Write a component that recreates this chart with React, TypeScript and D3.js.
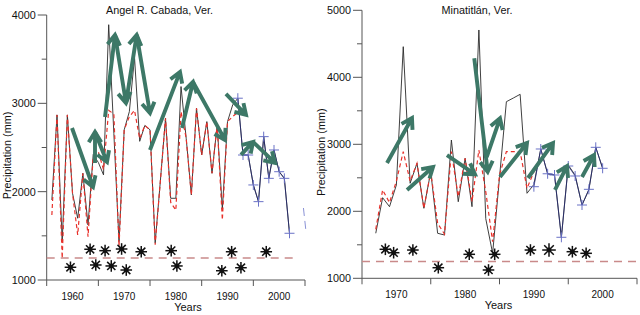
import React from 'react';
import * as d3 from 'd3';

// ---------- Left panel: Angel R. Cabada ----------
const yearsL = [1956,1957,1958,1959,1960,1961,1962,1963,1964,1965,1966,1967,1968,1969,1970,1971,1972,1973,1974,1975,1976,1977,1978,1979,1980,1981,1982,1983,1984,1985,1986,1987,1988,1989,1990,1991,1992,1993,1994,1995,1996,1997,1998,1999,2000,2001,2002];
const blackL = [1906,2869,1434,2869,1982,1699,2208,1623,2420,2330,2190,3890,2660,1434,2700,2906,3520,2570,2750,2700,1420,2120,2831,1925,1925,3190,2605,1963,2944,2415,2793,2208,2755,1800,2793,2982,3058,2415,2415,2076,1887,2623,2151,2472,2226,2151,1529];
const redYearsL = [1956,1957,1958,1959,1960,1961,1962,1963,1964,1965,1966,1967,1968,1969,1970,1971,1972,1973,1974,1975,1976,1977,1978,1979,1980,1981,1982,1983,1984,1985,1986,1987,1988,1989,1990,1991,1992];
const redL = [1736,2869,1245,2869,1982,1510,2208,1490,2400,2450,2250,2920,2880,1380,2700,2850,2920,2600,2750,2700,1400,2120,2831,1880,1790,2906,2605,1963,2944,2415,2793,2208,2755,1680,2793,2850,2900];
const blueYearsL = [1992,1993,1994,1995,1996,1997,1998,1999,2000,2001,2002];
const blueL = [3058,2415,2415,2076,1887,2623,2151,2472,2226,2151,1529];
const eventYearsL = [1959.6,1963.4,1964.5,1966.3,1967.5,1969.5,1970.4,1973.3,1979.1,1980.2,1988.9,1990.8,1992.6,1997.5];
const eventValsL = [1144,1348,1170,1332,1159,1351,1113,1320,1332,1159,1105,1320,1139,1320];
// arrows: [year1, value1, year2, value2]
const arrowsL: number[][] = [
  [1959.9,2721,1963.96,2053],
  [1964.35,2325,1964.35,2676],
  [1964.35,2676,1966.67,2336],
  [1966.29,2846,1968.22,3775],
  [1968.22,3775,1970.35,3004],
  [1970.35,3004,1972.42,3775],
  [1972.42,3775,1974.99,2891],
  [1974.99,2472,1980.8,3356],
  [1981.19,2721,1983.32,3242],
  [1983.32,3242,1989.51,2586],
  [1989.7,3106,1993.58,2869],
  [1992.61,2416,1994.94,2563],
  [1994.94,2563,1999.2,2325],
];
const trailL = [[2004.7,1815],[2005.2,1544]];
const yTicksL = [1000,2000,3000,4000];
const yMinorL = [1500,2500,3500];

// ---------- Right panel: Minatitlán ----------
const yearsR = [1967,1968,1969,1970,1971,1972,1973,1974,1975,1976,1977,1978,1979,1980,1981,1982,1983,1984,1985,1986,1987,1988,1989,1990,1991,1992,1993,1994,1995,1996,1997,1998,1999,2000];
const blackR = [1672,2203,2069,2393,4457,2418,2716,2045,2591,1672,1646,3064,2143,2791,2069,4706,1890,1373,2505,3636,3690,3746,2269,2400,2930,2560,2542,1612,2690,2540,2094,2320,2955,2642];
const redYearsR = [1967,1968,1969,1970,1971,1972,1973,1974,1975,1976,1977,1978,1979,1980,1981,1982,1983,1984,1985,1986,1987,1988,1989,1990];
const redR = [1730,2318,2130,2450,2890,2450,2716,2045,2591,1820,1660,2890,2218,2791,2143,2915,2293,1546,2542,2890,2890,2890,2343,2591];
const blueYearsR = [1990,1991,1992,1993,1994,1995,1996,1997,1998,1999,2000];
const blueR = [2367,2930,2560,2542,1612,2676,2527,2094,2328,2955,2642];
const eventYearsR = [1968.4,1969.6,1972.4,1976.1,1980.6,1983.4,1984.3,1989.5,1992.2,1995.6,1997.6];
const eventValsR = [1433,1382,1422,1158,1358,1124,1358,1422,1422,1397,1373];
const arrowsR: number[][] = [
  [1968.64,2721,1972.27,3393],
  [1971.55,2318,1975.33,2661],
  [1977.36,2840,1981.44,2552],
  [1981.33,4284,1983.28,2591],
  [1983.14,2810,1985.07,3388],
  [1985.07,2512,1989.0,3019],
  [1989.15,2497,1992.78,3019],
  [1993.07,2318,1994.82,2676],
  [1997.0,2512,1998.75,2840],
];
const yTicksR = [1000,2000,3000,4000,5000];
const yMinorR = [1500,2500,3500,4500];

const decadeLabels = [1960,1970,1980,1990,2000];
const xTickYears = [1955,1965,1975,1985,1995,2005];
const threshold = 1250;

const FONT = 'Liberation Sans, Arial, Helvetica, sans-serif';
const ARROW = '#3d7867';
const AXIS = '#555';

function arrowPath(x1: number, y1: number, x2: number, y2: number) {
  const a = Math.atan2(y2 - y1, x2 - x1);
  const h = 12, ang = 0.55;
  const ax = x2 - h * Math.cos(a - ang), ay = y2 - h * Math.sin(a - ang);
  const bx = x2 - h * Math.cos(a + ang), by = y2 - h * Math.sin(a + ang);
  return `M${x1},${y1}L${x2},${y2}M${ax},${ay}L${x2},${y2}L${bx},${by}`;
}

function Asterisk({ x, y, r }: { x: number; y: number; r: number }) {
  const d = r * Math.SQRT1_2;
  return (
    <g stroke="#111" strokeWidth={1.5}>
      <line x1={x - r} y1={y} x2={x + r} y2={y} />
      <line x1={x} y1={y - r} x2={x} y2={y + r} />
      <line x1={x - d} y1={y - d} x2={x + d} y2={y + d} />
      <line x1={x - d} y1={y + d} x2={x + d} y2={y - d} />
      <circle cx={x} cy={y} r={1.7} fill="#111" />
    </g>
  );
}

function Panel(props: any) {
  const { x, y, years, black, redYears, red, blueYears, blue, evYears, evVals, arrows,
    yTicks, yMinor, title, titleX, labelX, yearsLabelX, dashEnd, trail, evBig } = props;
  const line = d3.line<[number, number]>().x(d => x(d[0])).y(d => y(d[1]));
  const blackPts = years.map((yr: number, i: number) => [yr, black[i]] as [number, number]);
  const redPts = redYears.map((yr: number, i: number) => [yr, red[i]] as [number, number]);
  const bluePts = blueYears.map((yr: number, i: number) => [yr, blue[i]] as [number, number]);
  const [x0, x1] = x.range();
  const [yb, yt] = y.range();
  return (
    <g fontFamily={FONT}>
      {/* axes */}
      <line x1={x0} y1={yb} x2={x0} y2={yt} stroke={AXIS} strokeWidth={1} />
      <line x1={x0} y1={yb} x2={x1} y2={yb} stroke={AXIS} strokeWidth={1} />
      {yTicks.map((t: number) => (
        <g key={t}>
          <line x1={x0 - 9} x2={x0} y1={y(t)} y2={y(t)} stroke={AXIS} />
          <text x={x0 - 11} y={y(t)} dy="0.36em" textAnchor="end" fontSize={10.8} fill="#111">{t}</text>
        </g>
      ))}
      {yMinor.map((t: number) => (
        <line key={t} x1={x0 - 5} x2={x0} y1={y(t)} y2={y(t)} stroke={AXIS} />
      ))}
      {xTickYears.filter((t) => x(t) >= x0 - 1 && x(t) <= x1 + 1).map((t) => (
        <line key={t} x1={x(t)} x2={x(t)} y1={yb} y2={yb + 6} stroke={AXIS} />
      ))}
      {decadeLabels.filter((t) => x(t) > x0 && x(t) < x1).map((t) => (
        <text key={t} x={x(t)} y={yb + 20} textAnchor="middle" fontSize={10} fill="#111">{t}</text>
      ))}
      <text x={yearsLabelX} y={yb + 31} textAnchor="middle" fontSize={11} fill="#111">Years</text>
      <text transform={`translate(${labelX},${(yb + yt) / 2 + 8}) rotate(-90)`} textAnchor="middle" fontSize={10.8} fill="#111">Precipitation (mm)</text>
      <text x={titleX} y={14} textAnchor="middle" fontSize={10.8} fill="#111">{title}</text>

      {/* threshold */}
      <line x1={x0} x2={x(dashEnd)} y1={y(threshold)} y2={y(threshold)} stroke="#c98a8a" strokeWidth={1.5} strokeDasharray="8,6" />

      {/* series */}
      <path d={line(blackPts) || ''} fill="none" stroke="#2a2a2a" strokeWidth={0.9} />
      <path d={line(redPts) || ''} fill="none" stroke="#e8302a" strokeWidth={1.2} strokeDasharray="4,3" />
      <path d={line(bluePts) || ''} fill="none" stroke="#1c2375" strokeWidth={0.9} opacity={0.8} />
      {bluePts.map((p: [number, number], i: number) => (
        <g key={i} stroke="#6a72c6" strokeWidth={1}>
          <line x1={x(p[0]) - 5} x2={x(p[0]) + 5} y1={y(p[1])} y2={y(p[1])} />
          <line x1={x(p[0])} x2={x(p[0])} y1={y(p[1]) - 5} y2={y(p[1]) + 5} />
        </g>
      ))}
      {trail && (
        <line x1={x(trail[0][0])} y1={y(trail[0][1])} x2={x(trail[1][0])} y2={y(trail[1][1])} stroke="#8a92d6" strokeWidth={1} strokeDasharray="8,5" />
      )}

      {/* arrows */}
      {arrows.map((a: number[], i: number) => (
        <path key={i} d={arrowPath(x(a[0]), y(a[1]), x(a[2]), y(a[3]))} fill="none" stroke={ARROW} strokeWidth={3.9} strokeLinecap="butt" strokeLinejoin="miter" />
      ))}

      {/* events */}
      {evYears.map((yr: number, i: number) => (
        <Asterisk key={i} x={x(yr)} y={y(evVals[i])} r={evBig && evBig === yr ? 6.8 : 5.8} />
      ))}
    </g>
  );
}

export default function App() {
  const xL = d3.scaleLinear().domain([1955, 2005]).range([46.7, 305]);
  const yL = d3.scaleLinear().domain([1000, 4000]).range([280, 15]);
  const xR = d3.scaleLinear().domain([1965, 2005]).range([362, 637]);
  const yR = d3.scaleLinear().domain([1000, 5000]).range([278.3, 10.3]);
  return (
    <svg width={640} height={315} style={{ position: 'absolute', left: 0, top: 0, background: '#fff' }}>
      <rect width={640} height={315} fill="#fff" />
      <Panel x={xL} y={yL} years={yearsL} black={blackL} redYears={redYearsL} red={redL}
        blueYears={blueYearsL} blue={blueL} evYears={eventYearsL} evVals={eventValsL}
        arrows={arrowsL} yTicks={yTicksL} yMinor={yMinorL} title="Angel R. Cabada, Ver."
        titleX={159.5} labelX={11} yearsLabelX={188} dashEnd={2003.1} trail={trailL} />
      <Panel x={xR} y={yR} years={yearsR} black={blackR} redYears={redYearsR} red={redR}
        blueYears={blueYearsR} blue={blueR} evYears={eventYearsR} evVals={eventValsR}
        arrows={arrowsR} yTicks={yTicksR} yMinor={yMinorR} title="Minatitlán, Ver."
        titleX={477} labelX={325} yearsLabelX={498.5} dashEnd={2005.5} evBig={1992.2} />
    </svg>
  );
}
